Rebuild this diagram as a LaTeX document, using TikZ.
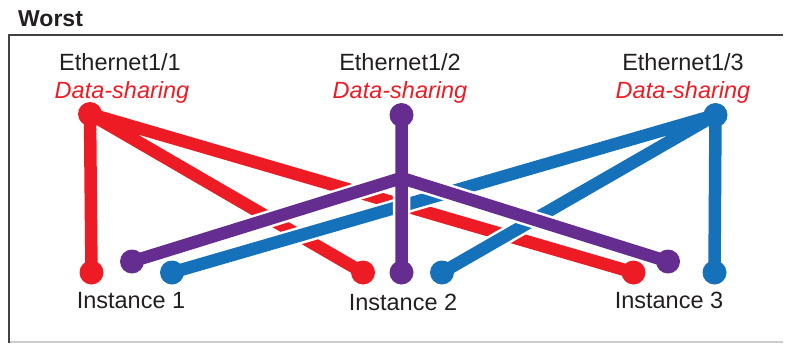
\documentclass[tikz,border=0pt]{standalone}
\usepackage{fontspec}
\setmainfont{Liberation Sans}
\definecolor{cred}{HTML}{ED1C24}
\definecolor{cpurple}{HTML}{662D91}
\definecolor{cblue}{HTML}{1571BA}
\definecolor{ctext}{HTML}{231F20}
\begin{document}
\begin{tikzpicture}[x=1pt,y=-1pt,
  lbl/.style={anchor=base,inner sep=0pt,text=ctext,font=\fontsize{23.5}{27}\selectfont},
  dslbl/.style={anchor=base,inner sep=0pt,text=cred,font=\fontsize{23.5}{27}\selectfont\itshape},
  halo/.style={line width=17.5pt,white},
  wire/.style={line width=12.5pt,#1},
]
\useasboundingbox (0,0) rectangle (785,343);
% frame
\draw[line width=1.2pt,gray!40] (9,342) -- (783,342);
\draw[line width=2.5pt,ctext!85] (9,343) -- (9,35) -- (783,35);
\node[anchor=base west,inner sep=0pt,text=ctext,font=\fontsize{23}{27}\selectfont\bfseries] (title) at (18,26) {Worst};
% labels
\node[lbl] (t1) at (120,70.5) {Ethernet1/1};
\node[dslbl] (d1) at (122,98.5) {Data-sharing};
\node[lbl] (t2) at (400,70.5) {Ethernet1/2};
\node[dslbl] (d2) at (400,98.5) {Data-sharing};
\node[lbl] (t3) at (683,70.5) {Ethernet1/3};
\node[dslbl] (d3) at (683,98.5) {Data-sharing};
\node[lbl] (i1) at (131,308) {Instance 1};
\node[lbl] (i2) at (403,310) {Instance 2};
\node[lbl] (i3) at (669,308) {Instance 3};
% points
\coordinate (e1) at (90,114);
\coordinate (e2) at (401.5,115);
\coordinate (e3) at (715.5,115);
\coordinate (hub) at (401.5,178);
\coordinate (r1) at (91.5,272.5);
\coordinate (r2) at (363,272.5);
\coordinate (r3) at (633.5,272.5);
\coordinate (p1) at (132,261.5);
\coordinate (p2) at (401.5,272.5);
\coordinate (p3) at (668,261.5);
\coordinate (b1) at (172,272.5);
\coordinate (b2) at (442,272.5);
\coordinate (b3) at (714.5,272.5);
% red
\draw[halo] (e1) -- (r1) (e1) -- (r2) (e1) -- (r3);
\draw[wire=cred] (e1) -- (r1) (e1) -- (r2) (e1) -- (r3);
\foreach \p in {e1,r1,r2,r3} \fill[cred] (\p) circle (12pt);
% blue
\draw[halo] (e3) -- (b1) (e3) -- (b2) (e3) -- (b3);
\draw[wire=cblue] (e3) -- (b1) (e3) -- (b2) (e3) -- (b3);
\foreach \p in {e3,b1,b2,b3} \fill[cblue] (\p) circle (12pt);
% purple
\draw[halo] (e2) -- (p2) (hub) -- (p1) (hub) -- (p3);
\draw[wire=cpurple] (e2) -- (p2) (hub) -- (p1) (hub) -- (p3);
\foreach \p in {e2,p1,p2,p3} \fill[cpurple] (\p) circle (12pt);
\end{tikzpicture}
\end{document}
